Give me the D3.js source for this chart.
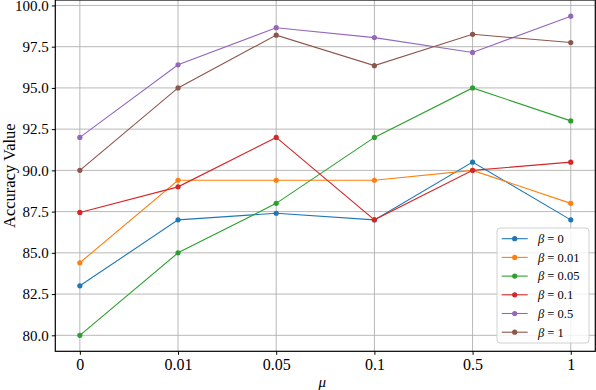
<!DOCTYPE html>
<html>
<head>
<meta charset="utf-8">
<script src="https://cdn.jsdelivr.net/npm/d3@7"></script>
<style>
  html, body { margin: 0; padding: 0; background: #fff; }
  svg { display: block; }
  text { font-family: "Liberation Serif", "DejaVu Serif", serif; fill: #000; }
</style>
</head>
<body>
<svg id="chart" width="596" height="390"></svg>
<script>
const categories = ["0", "0.01", "0.05", "0.1", "0.5", "1"];
const yTicks = [80.0, 82.5, 85.0, 87.5, 90.0, 92.5, 95.0, 97.5, 100.0];
const seriesNames = ["0", "0.01", "0.05", "0.1", "0.5", "1"];
const beta0    = [83.0, 87.0, 87.4, 87.0, 90.5, 87.0];
const beta001  = [84.4, 89.4, 89.4, 89.4, 90.0, 88.0];
const beta005  = [80.0, 85.0, 88.0, 92.0, 95.0, 93.0];
const beta01   = [87.45, 89.0, 92.0, 87.0, 90.0, 90.5];
const beta05   = [92.0, 96.4, 98.65, 98.05, 97.15, 99.35];
const beta1    = [90.0, 95.0, 98.2, 96.35, 98.25, 97.75];
const seriesValues = [beta0, beta001, beta005, beta01, beta05, beta1];
const colors = ["#1f77b4", "#ff7f0e", "#2ca02c", "#d62728", "#9467bd", "#8c564b"];

const svg = d3.select("#chart");
const L = 55.3, R = 595.3, T = 0, B = 351.3;

const x = d3.scaleLinear().domain([-0.25, categories.length - 0.75]).range([L, R]);
const y = d3.scaleLinear().domain([79.03, 100.33]).range([B, T]);

// grid
const grid = svg.append("g");
grid.selectAll("line.gx").data(categories).enter().append("line")
  .attr("x1", (d, i) => x(i)).attr("x2", (d, i) => x(i))
  .attr("y1", T).attr("y2", B)
  .attr("stroke", "#b0b0b0").attr("stroke-width", 0.9);
grid.selectAll("line.gy").data(yTicks).enter().append("line")
  .attr("x1", L).attr("x2", R)
  .attr("y1", d => y(d)).attr("y2", d => y(d))
  .attr("stroke", "#b0b0b0").attr("stroke-width", 0.9);

// lines
const line = d3.line().x((d, i) => x(i)).y(d => y(d));
const plot = svg.append("g");
seriesValues.forEach((vals, si) => {
  plot.append("path").datum(vals)
    .attr("d", line).attr("fill", "none")
    .attr("stroke", colors[si]).attr("stroke-width", 1.1);
  plot.selectAll(null).data(vals).enter().append("circle")
    .attr("cx", (d, i) => x(i)).attr("cy", d => y(d)).attr("r", 2.6)
    .attr("fill", colors[si]);
});

// spines
svg.append("rect").attr("x", L).attr("y", T).attr("width", R - L).attr("height", B - T)
  .attr("fill", "none").attr("stroke", "#000").attr("stroke-width", 1.2);

// axes
const xAxis = d3.axisBottom(x).tickValues(d3.range(categories.length))
  .tickFormat(i => categories[i]).tickSize(3.5).tickPadding(4);
const gx = svg.append("g").attr("transform", `translate(0,${B})`).call(xAxis);
gx.select(".domain").remove();
gx.selectAll("text").style("font-size", "16px").attr("dy", "0.71em");
gx.selectAll("line").attr("stroke-width", 1);

const yAxis = d3.axisLeft(y).tickValues(yTicks).tickFormat(d3.format(".1f"))
  .tickSize(3.5).tickPadding(3);
const gy = svg.append("g").attr("transform", `translate(${L},0)`).call(yAxis);
gy.select(".domain").remove();
gy.selectAll("text").style("font-size", "15px");
gy.selectAll("line").attr("stroke-width", 1);

// axis labels
svg.append("text").attr("x", (L + R) / 2 - 3).attr("y", 387)
  .attr("text-anchor", "middle").style("font-size", "15px").style("font-style", "italic")
  .text("μ");
svg.append("text").attr("transform", `translate(15,${(T + B) / 2}) rotate(-90)`)
  .attr("text-anchor", "middle").style("font-size", "16.5px")
  .text("Accuracy Value");

// legend
const lg = svg.append("g").attr("transform", "translate(497,228)");
lg.append("rect").attr("x", 0).attr("y", 0).attr("width", 92).attr("height", 115)
  .attr("rx", 3).attr("fill", "#fff").attr("fill-opacity", 0.8)
  .attr("stroke", "#d0d0d0").attr("stroke-width", 1);
seriesNames.forEach((n, i) => {
  const ry = 10.7 + i * 18.7;
  lg.append("line").attr("x1", 4.7).attr("x2", 30.7).attr("y1", ry).attr("y2", ry)
    .attr("stroke", colors[i]).attr("stroke-width", 1.1);
  lg.append("circle").attr("cx", 17.7).attr("cy", ry).attr("r", 2.6).attr("fill", colors[i]);
  const t = lg.append("text").attr("x", 41).attr("y", ry).attr("dy", "0.35em")
    .style("font-size", "12.5px");
  t.append("tspan").style("font-style", "italic").text("β");
  t.append("tspan").text(" = " + n);
});
</script>
</body>
</html>
